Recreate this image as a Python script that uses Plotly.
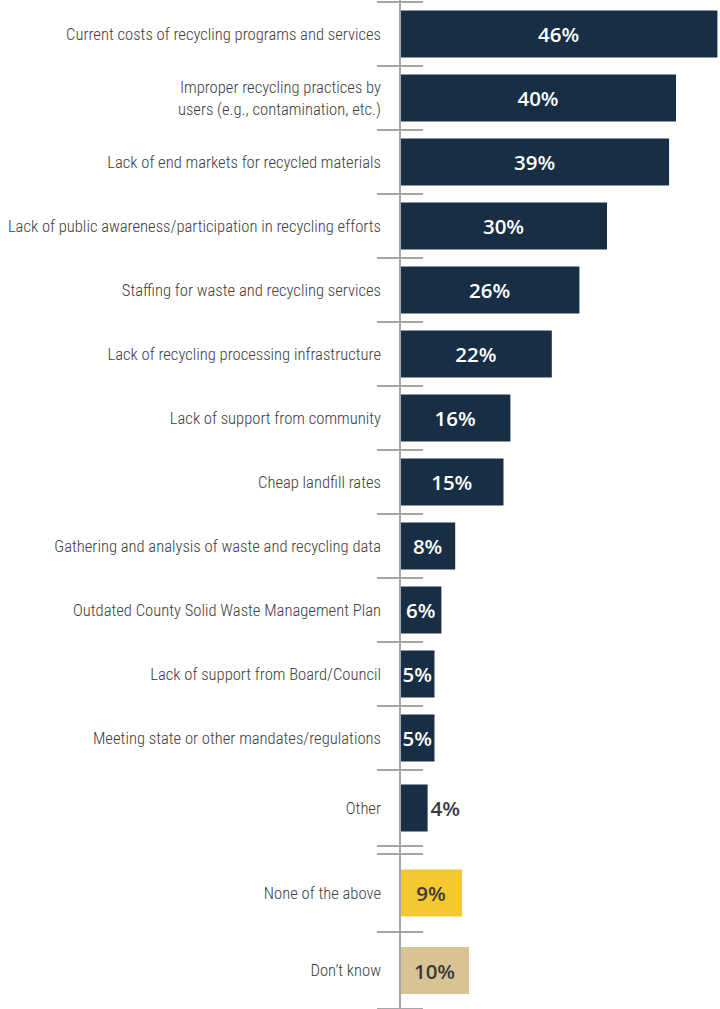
import plotly.graph_objects as go

# Survey responses: challenges facing recycling programs (% of respondents)
categories = [
    "Current costs of recycling programs and services",
    "Improper recycling practices by<br>users (e.g., contamination, etc.)",
    "Lack of end markets for recycled materials",
    "Lack of public awareness/participation in recycling efforts",
    "Staffing for waste and recycling services",
    "Lack of recycling processing infrastructure",
    "Lack of support from community",
    "Cheap landfill rates",
    "Gathering and analysis of waste and recycling data",
    "Outdated County Solid Waste Management Plan",
    "Lack of support from Board/Council",
    "Meeting state or other mandates/regulations",
    "Other",
    "None of the above",
    "Don\u2019t know",
]
values = [46, 40, 39, 30, 26, 22, 16, 15, 8, 6, 5, 5, 4, 9, 10]
groups = ["challenge"] * 13 + ["none", "dontknow"]

NAVY = "#172e45"
YELLOW = "#f5c832"
TAN = "#d7c394"
AXIS_GREY = "#a3a7ab"
LABEL_GREY = "#3a3a3a"

W, H = 720, 1009
AXIS_X = 400
PX_PER_PCT = 6.9

# Row bands (in pixel units from the top): twelve evenly spaced rows,
# a taller "Other" row, then a small break before the two non-answers.
band_heights = [64] * 12 + [76, 78, 77]
gap_before = {13: 8}
top = 2
bands = []
y = top
for i, h in enumerate(band_heights):
    y += gap_before.get(i, 0)
    bands.append((y, y + h))
    y += h
centers = [(a + b) / 2 for a, b in bands]

colors = [NAVY if g == "challenge" else (YELLOW if g == "none" else TAN) for g in groups]
positions = ["outside" if (g == "challenge" and v < 5) else "inside" for v, g in zip(values, groups)]
text_colors = [
    "white" if (g == "challenge" and p == "inside") else LABEL_GREY
    for g, p in zip(groups, positions)
]

fig = go.Figure(
    go.Bar(
        x=values,
        y=centers,
        orientation="h",
        width=47,
        marker=dict(color=colors, line=dict(width=0)),
        text=[f"{v}%" for v in values],
        textposition=positions,
        textangle=0,
        insidetextanchor="middle",
        constraintext="none",
        cliponaxis=False,
        textfont=dict(family="Open Sans, Inter, sans-serif", size=20.5, color=text_colors, weight=600),
        hoverinfo="skip",
    )
)

shapes = []
# vertical axis line (paper coordinates so nothing is clipped)
shapes.append(dict(type="line", xref="paper", yref="paper", x0=0, x1=0, y0=0, y1=1,
                   line=dict(color=AXIS_GREY, width=2), layer="above"))
# band separators crossing the axis
boundaries = []
for a, b in bands:
    for v in (a, b):
        if v not in boundaries:
            boundaries.append(v)
for yb in boundaries:
    yp = 1 - yb / H
    shapes.append(dict(type="line", xref="paper", yref="paper", xsizemode="pixel", xanchor=0,
                       x0=-23, x1=23, y0=yp, y1=yp,
                       line=dict(color=AXIS_GREY, width=2), layer="above"))

fig.update_layout(
    width=W,
    height=H,
    margin=dict(l=AXIS_X, r=0, t=0, b=0, autoexpand=False),
    paper_bgcolor="white",
    plot_bgcolor="white",
    showlegend=False,
    shapes=shapes,
    xaxis=dict(range=[0, (W - AXIS_X) / PX_PER_PCT], visible=False, fixedrange=True),
    yaxis=dict(
        range=[H, 0],
        tickmode="array",
        tickvals=centers,
        ticktext=categories,
        ticks="",
        showgrid=False,
        zeroline=False,
        showline=False,
        automargin=False,
        ticklabelstandoff=18,
        tickfont=dict(family="Roboto Condensed, sans-serif", size=16.6, weight=300, color="#3d3d3d"),
        fixedrange=True,
    ),
)

fig.write_html("out.html", config={"displayModeBar": False})
